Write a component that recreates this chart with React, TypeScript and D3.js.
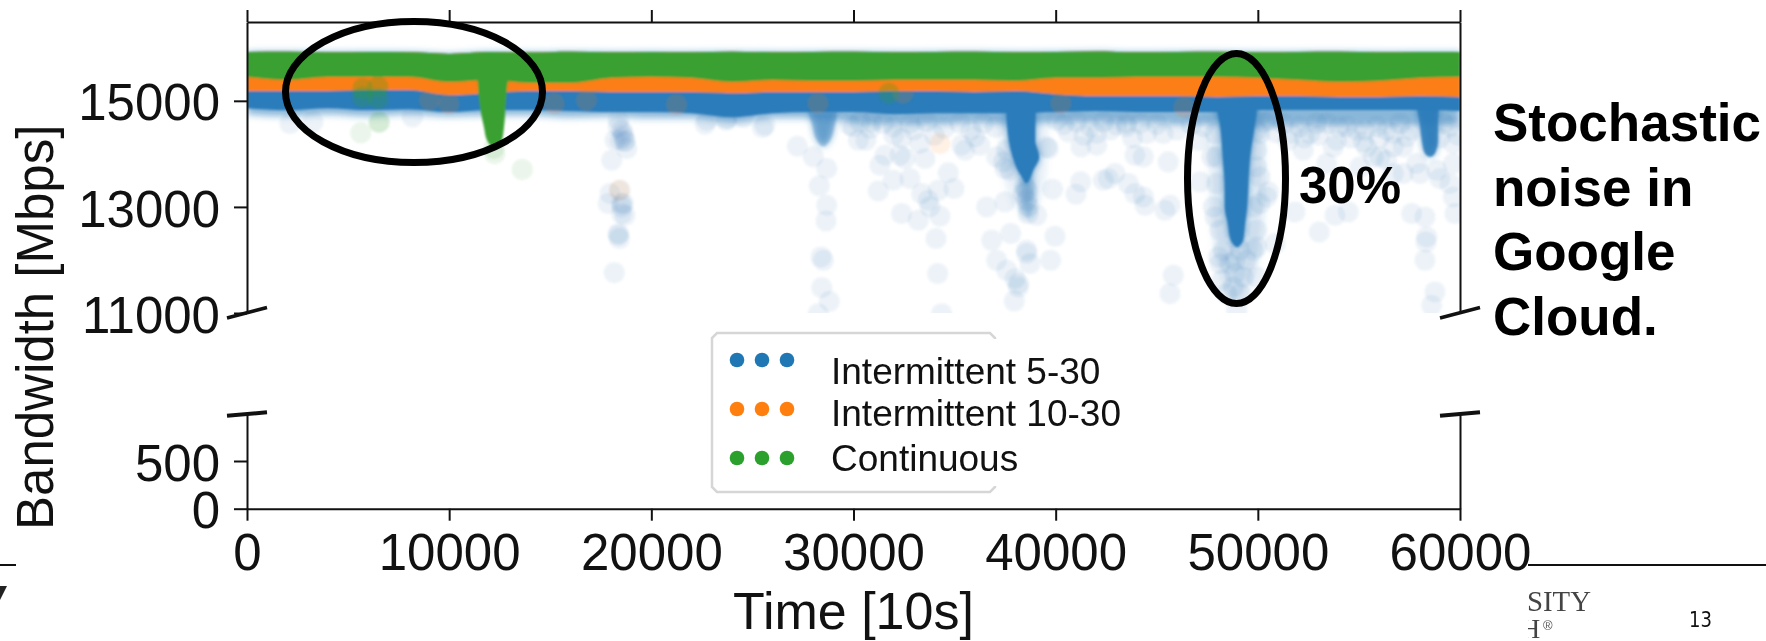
import React, { useEffect, useRef } from 'react';
import * as d3 from 'd3';

const WIDTH = 1766;
const HEIGHT = 641;

const xTicks = [0, 10000, 20000, 30000, 40000, 50000, 60000];
const upperTicks = [11000, 13000, 15000];
const lowerTicks = [0, 500];
const legendLabels = ['Intermittent 5-30', 'Intermittent 10-30', 'Continuous'];
const legendColors = ['#1f77b4', '#ff7f0e', '#2ca02c'];
const noteLines = ['Stochastic', 'noise in', 'Google', 'Cloud.'];

const bandTimes = [
    0, 2000, 4000, 6000, 8000, 10000, 12000, 14000, 16000, 18000, 20000,
    22000, 24000, 26000, 28000, 30000, 32000, 34000, 36000, 38000, 40000,
    42000, 44000, 46000, 48000, 50000, 52000, 54000, 56000, 58000, 60000,
];
const greenTop = [
    15919, 15925, 15915, 15920, 15915, 15885, 15920, 15910, 15925, 15915, 15920,
    15915, 15925, 15915, 15920, 15925, 15915, 15920, 15925, 15915, 15920,
    15930, 15915, 15920, 15925, 15915, 15920, 15925, 15915, 15920, 15919,
];
const greenLow = [
    15447, 15391, 15447, 15447, 15447, 15353, 15391, 15334, 15334, 15428, 15447,
    15428, 15353, 15391, 15372, 15372, 15391, 15391, 15391, 15372, 15428,
    15428, 15447, 15447, 15447, 15428, 15391, 15353, 15372, 15428, 15447,
];
const orangeLow = [
    15183, 15183, 15183, 15202, 15202, 15108, 15145, 15183, 15183, 15164, 15164,
    15164, 15145, 15164, 15164, 15164, 15183, 15183, 15164, 15183, 15126,
    15089, 15089, 15089, 15070, 15089, 15089, 15070, 15070, 15089, 15070,
];
const blueLow = [
    14862, 14825, 14862, 14825, 14843, 14787, 14825, 14825, 14806, 14787, 14787,
    14768, 14692, 14768, 14787, 14787, 14749, 14768, 14768, 14768, 14787,
    14806, 14787, 14787, 14787, 14825, 14825, 14825, 14825, 14825, 14806,
];
const blueHaze = [
    14749, 14711, 14749, 14711, 14749, 14711, 14730, 14730, 14692, 14711, 14674,
    14674, 14598, 14674, 14674, 14598, 14560, 14560, 14598, 14560, 14598,
    14598, 14598, 14560, 14560, 14541, 14541, 14541, 14541, 14541, 14541,
];

// dips where a whole stretch of samples drops: level, left and right edge in time
const dip38Levels = [15013, 14825, 14258, 13938, 13692, 13541, 13450];
const dip38Left = [37575, 37575, 37690, 37888, 38134, 38381, 38500];
const dip38Right = [39124, 39000, 38975, 39174, 38877, 38727, 38600];
const dip38TailLevels = [13600, 13300, 12900, 12800];
const dip38TailLeft = [38200, 38250, 38350, 38500];
const dip38TailRight = [38900, 38950, 38850, 38700];
const dip38HaloLevels = [14700, 13700, 13000];
const dip38HaloLeft = [37200, 37400, 38000];
const dip38HaloRight = [39600, 39500, 39100];
const dip49Levels = [15013, 14579, 13938, 13315, 12994, 12692, 12371, 12250];
const dip49Left = [47878, 48125, 48273, 48372, 48372, 48520, 48668, 48900];
const dip49Right = [50005, 49856, 49608, 49510, 49460, 49361, 49262, 49050];
const dip49HaloLevels = [14800, 13000, 12000, 11200];
const dip49HaloLeft = [47600, 47700, 48000, 48600];
const dip49HaloRight = [50300, 50300, 50000, 49300];
const dip58Levels = [15013, 14579, 14258, 14012, 13950];
const dip58Left = [57770, 58016, 58115, 58264, 58450];
const dip58Right = [59006, 58906, 58906, 58759, 58600];
const dip28Levels = [14787, 14579, 14258, 14150];
const dip28Left = [27747, 27945, 28192, 28400];
const dip28Right = [29181, 29082, 28835, 28600];
const dipGreenLevels = [15391, 15013, 14504, 14258, 14120];
const dipGreenLeft = [11400, 11475, 11722, 11870, 12150];
const dipGreenRight = [12909, 12810, 12711, 12612, 12350];

// single samples [time, bandwidth] below the core
const bluePoints: [number, number][] = [
    [2124, 14573], [3260, 14604], [8181, 14698], [22663, 14560], [23704, 14635], [25503, 14497],
    [18037, 13881], [18202, 14258], [18367, 14510], [18614, 14321], [18697, 14227], [18779, 14101],
    [18367, 14636], [18532, 14447], [18449, 13315], [17955, 13252], [17872, 13063], [18614, 13063],
    [18532, 12875], [18697, 12843], [18367, 12466], [18416, 12403], [18169, 11761],
    [18614, 14384], [18449, 14258], [18697, 14258], [18532, 13063], [18532, 13000], [18367, 12497],
    [22737, 14636], [23726, 14667], [24550, 14699], [25622, 14542],
    [27222, 14145], [28013, 13944], [28673, 13724], [28310, 13397], [28673, 13032], [28640, 12736],
    [28392, 12057], [28508, 11994], [28426, 11478], [28805, 11220], [28261, 10988],
    [29992, 14510], [30240, 14258], [29824, 14542], [30615, 14258], [30813, 14479], [31308, 13787],
    [31226, 13302], [31556, 13975], [31968, 13504], [32380, 12875], [32298, 13975], [32380, 14290],
    [32545, 13913], [32792, 13535], [33204, 12749], [33287, 14196], [33534, 13913], [33699, 13126],
    [33782, 13000], [33369, 13252], [34276, 12824], [34078, 12403], [34161, 11743], [34359, 10988],
    [34474, 14479], [34689, 13642], [34969, 13346], [34194, 13315], [35348, 14164], [35513, 14070],
    [36255, 14164], [36008, 14321], [36585, 13000], [36832, 12371], [37080, 11994], [37492, 13095],
    [37410, 13850], [37492, 13724], [37772, 12497], [38564, 13315], [38564, 13126], [38646, 13000],
    [38399, 13252], [38646, 12875], [39058, 12843], [38481, 13378], [38564, 12183], [38564, 12120],
    [38151, 11554], [38151, 11491], [37987, 11648], [37954, 11227], [37574, 11805], [38729, 11931],
    [39751, 11994], [39965, 12447], [39850, 13334], [39636, 14101], [40625, 14416], [41252, 14133],
    [42027, 14164], [42027, 14384], [41235, 13472], [41004, 13240], [42357, 13504], [42604, 13535],
    [42934, 13629], [43594, 13441], [43923, 13975], [44335, 13944], [43511, 14573], [43923, 13252],
    [44335, 13189], [44418, 13032], [45652, 13032], [45404, 12938], [45817, 11711], [45652, 11365],
    [45569, 13850], [45322, 14384], [47136, 13472], [47301, 14510], [47713, 13944], [47878, 12812],
    [49939, 14447], [49939, 13755], [50516, 13284], [50104, 13063], [50846, 12308], [49774, 12183],
    [48043, 12057], [48208, 11617], [48867, 11743], [48867, 11994], [49444, 11994], [48455, 11365],
    [49115, 11365], [48950, 11051], [49939, 11680], [51835, 12906], [53039, 12529], [53814, 12843],
    [54474, 12906], [52248, 14070], [53732, 14133], [55216, 14227], [56041, 13944], [56700, 14384],
    [57195, 13629], [57607, 12875], [58266, 12812], [58349, 12434], [58316, 12340], [58266, 11994],
    [58761, 11397], [58596, 11145], [59009, 13535], [59668, 13189], [59751, 12875], [59668, 14196],
    [57854, 13818], [52907, 14573], [54391, 14510], [51671, 14384], [55876, 14510], [57360, 14321],
    [55051, 13755], [56700, 13629], [53402, 13818],
    [50599, 14636], [51258, 14573], [52083, 14510], [52577, 14384], [53402, 14573], [53897, 14258],
    [54886, 14447], [55381, 14133], [55711, 13944], [56370, 14447], [57030, 14573], [56700, 14133],
    [56370, 13881], [57195, 14133], [59503, 14510], [59668, 13818], [58844, 13692], [59503, 13441],
    [58019, 13629], [59173, 14573],
    [30319, 14604], [31473, 14573], [31968, 14510], [32792, 14573], [33617, 14604], [35266, 14573],
    [36420, 14573], [40048, 14636], [41037, 14604], [41697, 14510], [42357, 14604], [43016, 14542],
    [43511, 14510], [44170, 14573], [44500, 14384], [37080, 13944], [37574, 14070], [37739, 13692],
    [39553, 14133],
    [47960, 13944], [49939, 14070], [50104, 13567], [50434, 13189], [47795, 13000], [47878, 14384],
    [50104, 14384], [49774, 13000], [47960, 13441], [48125, 12560], [49939, 12560], [49939, 12246],
    [48290, 12183], [49115, 12183], [48620, 11931], [49280, 11680], [48785, 11491], [48125, 11931],
    [50900, 14400], [51500, 14250], [52300, 14300], [53000, 14350], [54000, 14500], [54600, 14300],
    [55300, 14450], [56000, 14300], [57600, 14450], [59000, 14300], [59900, 14350], [50300, 14600],
    [30900, 14600], [32000, 14350], [33000, 14450], [34000, 14350], [35800, 14450], [37000, 14500],
    [40400, 14550], [41400, 14350], [42700, 14450], [43800, 14300], [45000, 14550], [46000, 14450],
    [46700, 14550], [47100, 14250],
];
const orangeFaint: [number, number][] = [[18416, 13315], [34276, 14196]];
const orangeOnBlue: [number, number][] = [
    [9980, 14950], [15185, 14950], [21243, 14930], [16794, 15013], [9033, 15013], [28240, 14956],
    [40260, 14956], [46345, 14881], [32450, 15145],
];
const greenPoints: [number, number][] = [
    [5626, 14397], [6534, 14604], [6534, 14590], [12252, 14007], [12200, 14100], [13614, 13705],
];
const greenOnBand: [number, number][] = [
    [5720, 15233], [5720, 15076], [6478, 15265], [6478, 15044], [31750, 15145],
];

function App() {
    const ref = useRef<SVGSVGElement | null>(null);

    useEffect(() => {
        const svg = d3.select(ref.current);
        svg.selectAll('*').remove(); // Clear svg content before adding new elements

        const x = d3.scaleLinear().domain([0, 60000]).range([247, 1460]);
        const yUpper = d3.scaleLinear().domain([11000, 16486]).range([313, 22]);
        const yLower = d3.scaleLinear().domain([0, 1000]).range([508.7, 413.3]);
        const font = '"Liberation Sans", Arial, sans-serif';

        const defs = svg.append('defs');
        defs.append('clipPath').attr('id', 'plot-clip').append('rect')
            .attr('x', x(0)).attr('y', yUpper(16486))
            .attr('width', x(60000) - x(0)).attr('height', yUpper(11000) - yUpper(16486));
        defs.append('filter').attr('id', 'soft')
            .attr('x', '-5%').attr('y', '-20%').attr('width', '110%').attr('height', '140%')
            .append('feGaussianBlur').attr('stdDeviation', 1.3);
        defs.append('filter').attr('id', 'softer')
            .attr('x', '-5%').attr('y', '-20%').attr('width', '110%').attr('height', '140%')
            .append('feGaussianBlur').attr('stdDeviation', 3.5);
        defs.append('clipPath').attr('id', 'logo-clip').append('rect')
            .attr('x', 1528).attr('y', 615).attr('width', 100).attr('height', 26);

        const plot = svg.append('g').attr('clip-path', 'url(#plot-clip)');
        const haze = plot.append('g').attr('filter', 'url(#softer)');
        const marks = plot.append('g').attr('filter', 'url(#soft)');

        const drawBand = (low: number[], high: number[], color: string, opacity = 1, parent = marks) => {
            const band = d3.area<number>()
                .x(t => x(t))
                .y0((_, i) => yUpper(low[i]))
                .y1((_, i) => yUpper(high[i]))
                .curve(d3.curveMonotoneX);
            parent.append('path')
                .attr('d', band(bandTimes))
                .attr('fill', color)
                .attr('opacity', opacity);
        };
        const drawDip = (levels: number[], left: number[], right: number[], color: string, opacity = 1, parent = marks) => {
            const dip = d3.area<number>()
                .y(v => yUpper(v))
                .x0((_, i) => x(left[i]))
                .x1((_, i) => x(right[i]))
                .curve(d3.curveMonotoneY);
            parent.append('path').attr('d', dip(levels)).attr('fill', color).attr('opacity', opacity);
        };
        const drawPoints = (points: [number, number][], color: string, opacity: number) => {
            marks.append('g').selectAll('circle')
                .data(points)
                .enter()
                .append('circle')
                .attr('cx', d => x(d[0]))
                .attr('cy', d => yUpper(d[1]))
                .attr('r', 10.5)
                .attr('fill', color)
                .attr('opacity', opacity);
        };

        const blue = '#2a7bba';
        const orange = '#fb7f12';
        const green = '#3aa032';

        // blue samples
        drawBand(blueHaze, greenTop, blue, 0.55, haze);
        drawDip(dip49HaloLevels, dip49HaloLeft, dip49HaloRight, blue, 0.16, haze);
        drawDip(dip38HaloLevels, dip38HaloLeft, dip38HaloRight, blue, 0.12, haze);
        drawDip(dip28Levels, dip28Left, dip28Right, blue, 0.6, haze);
        drawPoints(bluePoints, '#2a6fb5', 0.09);
        drawDip(dip28Levels, dip28Left, dip28Right, blue, 0.3);
        drawDip(dip38TailLevels, dip38TailLeft, dip38TailRight, blue, 0.4, haze);
        drawDip(dip38Levels, dip38Left, dip38Right, blue, 0.9, haze);
        drawDip(dip49Levels, dip49Left, dip49Right, blue, 0.9, haze);
        drawDip(dip58Levels, dip58Left, dip58Right, blue, 0.7, haze);
        drawDip(dip38Levels, dip38Left, dip38Right, blue);
        drawDip(dip49Levels, dip49Left, dip49Right, blue);
        drawDip(dip58Levels, dip58Left, dip58Right, blue, 0.85);
        drawBand(blueLow, greenTop, blue);

        // orange samples
        drawPoints(orangeFaint, '#ff7f0e', 0.11);
        drawPoints(orangeOnBlue, '#ff7f0e', 0.16);
        drawBand(orangeLow, greenTop, orange);

        // green samples
        drawPoints(greenPoints, '#2ca02c', 0.1);
        drawBand(greenLow, greenTop, green);
        drawPoints(greenOnBand, '#2ca02c', 0.25);
        drawDip(dipGreenLevels, dipGreenLeft, dipGreenRight, green);

        // Axes
        const styleAxis = (g: any) => {
            g.selectAll('.domain').attr('stroke', '#111').attr('stroke-width', 2);
            g.selectAll('.tick line').attr('stroke', '#111').attr('stroke-width', 2);
            g.selectAll('.tick text')
                .attr('fill', '#111')
                .style('font-family', font)
                .style('font-size', '51px');
        };
        svg.append('g').attr('transform', `translate(${x(0)},0)`)
            .call(d3.axisLeft(yUpper).tickValues(upperTicks).tickFormat(d3.format('d')).tickSize(13).tickSizeOuter(0).tickPadding(14))
            .call(styleAxis)
            .selectAll('.tick text').attr('dy', '0.375em');
        svg.append('g').attr('transform', `translate(${x(0)},0)`)
            .call(d3.axisLeft(yLower).tickValues(lowerTicks).tickFormat(d3.format('d')).tickSize(13).tickSizeOuter(0).tickPadding(14))
            .call(styleAxis)
            .selectAll('.tick text').attr('dy', '0.375em');
        svg.append('g').attr('transform', `translate(${x(60000)},0)`)
            .call(d3.axisRight(yUpper).tickValues([]).tickSizeOuter(0))
            .call(styleAxis);
        svg.append('g').attr('transform', `translate(${x(60000)},0)`)
            .call(d3.axisRight(yLower).tickValues([]).tickSizeOuter(0))
            .call(styleAxis);
        svg.append('g').attr('transform', `translate(0,${yUpper(16486)})`)
            .call(d3.axisTop(x).tickValues(xTicks).tickFormat(() => '').tickSize(12).tickSizeOuter(0))
            .call(styleAxis);
        svg.append('g').attr('transform', `translate(0,${yLower(0)})`)
            .call(d3.axisBottom(x).tickValues(xTicks).tickFormat(d3.format('d')).tickSize(12).tickSizeOuter(0).tickPadding(13))
            .call(styleAxis);

        // Broken axis marks
        [x(0), x(60000)].forEach(ax => {
            svg.append('line')
                .attr('x1', ax - 20).attr('y1', yUpper(11000) + 5)
                .attr('x2', ax + 20).attr('y2', yUpper(11000) - 5.5)
                .attr('stroke', '#111').attr('stroke-width', 3.5);
            svg.append('line')
                .attr('x1', ax - 20).attr('y1', yLower(1000) + 2.5)
                .attr('x2', ax + 20).attr('y2', yLower(1000) - 1)
                .attr('stroke', '#111').attr('stroke-width', 4);
        });

        // Axis titles
        svg.append('text')
            .attr('transform', 'translate(53,530) rotate(-90)')
            .attr('fill', '#111')
            .style('font-family', font)
            .style('font-size', '51px')
            .text('Bandwidth [Mbps]');
        svg.append('text')
            .attr('x', x(30000))
            .attr('y', 629)
            .attr('text-anchor', 'middle')
            .attr('fill', '#111')
            .style('font-family', font)
            .style('font-size', '52px')
            .text('Time [10s]');

        // Legend, its right edge is cut off in the source slide
        const legend = svg.append('g');
        legend.append('path')
            .attr('d', d3.line()([[995, 339], [995, 338], [990, 333], [717, 333], [712, 338], [712, 487], [717, 492], [990, 492], [995, 487], [995, 486]]))
            .attr('fill', '#fff')
            .attr('stroke', '#d6d6d6')
            .attr('stroke-width', 2.5);
        const rowY = d3.scalePoint<string>().domain(legendLabels).range([360, 458]);
        const baseY = [384, 426, 471];
        legendLabels.forEach((label, i) => {
            [737, 762, 787].forEach(cx => {
                legend.append('circle')
                    .attr('cx', cx).attr('cy', rowY(label) as number).attr('r', 7.3)
                    .attr('fill', legendColors[i]);
            });
            legend.append('text')
                .attr('x', 831).attr('y', baseY[i])
                .attr('fill', '#111')
                .style('font-family', font)
                .style('font-size', '37px')
                .text(label);
        });

        // Ellipses and callouts drawn over the plot
        svg.append('ellipse')
            .attr('cx', 414).attr('cy', 92).attr('rx', 128.5).attr('ry', 70.5)
            .attr('fill', 'none').attr('stroke', '#000').attr('stroke-width', 7);
        svg.append('ellipse')
            .attr('cx', 1236.5).attr('cy', 178.5).attr('rx', 49).attr('ry', 125)
            .attr('fill', 'none').attr('stroke', '#000').attr('stroke-width', 7);
        svg.append('text')
            .attr('x', 1299).attr('y', 203)
            .attr('fill', '#000')
            .style('font-family', font).style('font-weight', 'bold').style('font-size', '51px')
            .text('30%');
        noteLines.forEach((line, i) => {
            svg.append('text')
                .attr('x', 1493).attr('y', 141 + i * 64.7)
                .attr('fill', '#000')
                .style('font-family', font).style('font-weight', 'bold').style('font-size', '53px')
                .text(line);
        });

        // Leftovers of the slide around the chart
        svg.append('line').attr('x1', 1528).attr('x2', 1766).attr('y1', 565).attr('y2', 565)
            .attr('stroke', '#111').attr('stroke-width', 2);
        svg.append('line').attr('x1', 0).attr('x2', 16).attr('y1', 565).attr('y2', 565)
            .attr('stroke', '#111').attr('stroke-width', 2);
        svg.append('path').attr('d', 'M0,586L7,586L0,600Z').attr('fill', '#222');
        svg.append('text')
            .attr('x', 1527).attr('y', 611)
            .attr('textLength', 64).attr('lengthAdjust', 'spacingAndGlyphs')
            .attr('fill', '#444')
            .style('font-family', '"Liberation Serif", serif').style('font-size', '30px')
            .text('SITY');
        svg.append('g').attr('clip-path', 'url(#logo-clip)').append('text')
            .attr('x', 1520).attr('y', 638)
            .attr('fill', '#444')
            .style('font-family', '"Liberation Serif", serif').style('font-size', '28px')
            .text('H');
        svg.append('text')
            .attr('x', 1543).attr('y', 630)
            .attr('fill', '#555')
            .style('font-family', '"Liberation Sans", sans-serif').style('font-size', '13px')
            .text('®');
        svg.append('text')
            .attr('x', 1689).attr('y', 627)
            .attr('textLength', 23).attr('lengthAdjust', 'spacingAndGlyphs')
            .attr('fill', '#111')
            .style('font-family', '"DejaVu Sans", sans-serif').style('font-size', '22px')
            .text('13');
    }, []);

    return (
        <svg
            ref={ref}
            width={WIDTH}
            height={HEIGHT}
            style={{ position: 'absolute', left: 0, top: 0, background: '#fff' }}
        ></svg>
    );
}

export default App;
